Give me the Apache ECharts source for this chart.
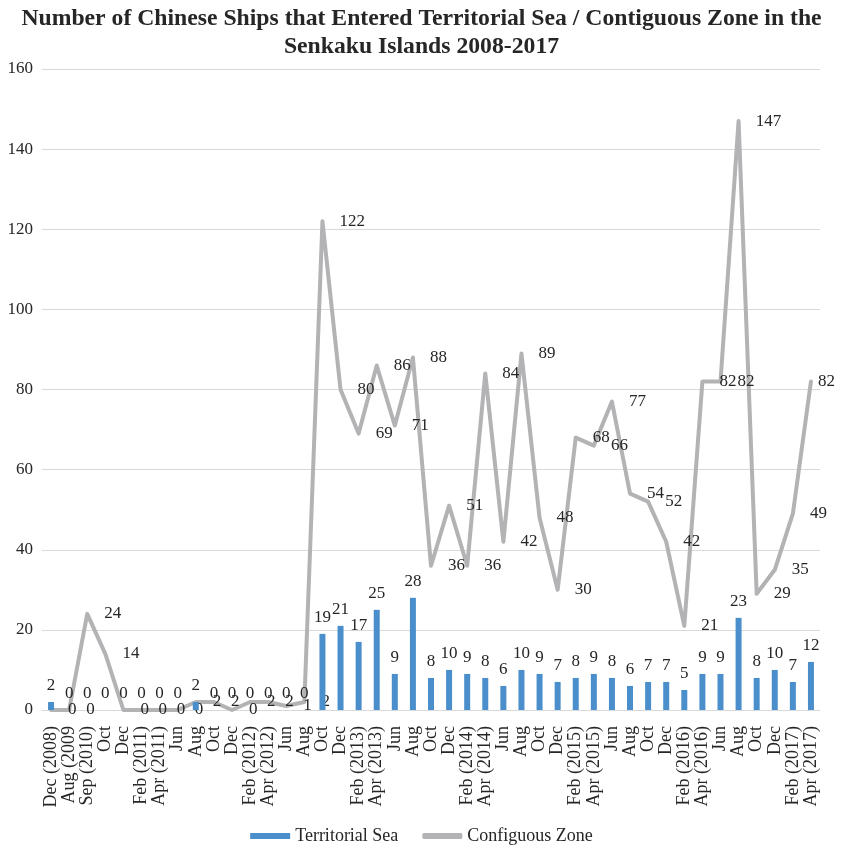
<!DOCTYPE html>
<html>
<head>
<meta charset="utf-8">
<script src="https://cdn.jsdelivr.net/npm/echarts@6/dist/echarts.min.js"></script>
<style>
  html, body { margin: 0; padding: 0; background: #fff; }
  #chart { width: 843px; height: 850px; }
</style>
</head>
<body>
<div id="chart"></div>
<script>
// Months on the category axis
var months = [
  'Dec (2008)', 'Aug (2009', 'Sep (2010)', 'Oct', 'Dec',
  'Feb (2011)', 'Apr (2011)', 'Jun', 'Aug', 'Oct', 'Dec',
  'Feb (2012)', 'Apr (2012)', 'Jun', 'Aug', 'Oct', 'Dec',
  'Feb (2013)', 'Apr (2013)', 'Jun', 'Aug', 'Oct', 'Dec',
  'Feb (2014)', 'Apr (2014)', 'Jun', 'Aug', 'Oct', 'Dec',
  'Feb (2015)', 'Apr (2015)', 'Jun', 'Aug', 'Oct', 'Dec',
  'Feb (2016)', 'Apr (2016)', 'Jun', 'Aug', 'Oct', 'Dec',
  'Feb (2017)', 'Apr (2017)'
];

// Ships entering the territorial sea
var territorialSea = [
  2, 0, 0, 0, 0,
  0, 0, 0, 2, 0, 0,
  0, 0, 0, 0, 19, 21,
  17, 25, 9, 28, 8, 10,
  9, 8, 6, 10, 9, 7,
  8, 9, 8, 6, 7, 7,
  5, 9, 9, 23, 8, 10,
  7, 12
];

// Ships entering the contiguous zone
var contiguousZone = [
  0, 0, 24, 14, 0,
  0, 0, 0, 2, 2, 0,
  2, 2, 1, 2, 122, 80,
  69, 86, 71, 88, 36, 51,
  36, 84, 42, 89, 48, 30,
  68, 66, 77, 54, 52, 42,
  21, 82, 82, 147, 29, 35,
  49, 82
];

var yTicks = { min: 0, max: 160, interval: 20 };

var serif = '"Liberation Serif", "Times New Roman", serif';
var textColor = '#262626';

// The last line label sits closer to its point so it stays inside the canvas
var lastIdx = contiguousZone.length - 1;
var contiguousData = contiguousZone.map(function (v, i) {
  return i === lastIdx ? { value: v, label: { distance: 7 } } : v;
});

var chart = echarts.init(document.getElementById('chart'), null, { renderer: 'canvas' });

chart.setOption({
  backgroundColor: '#ffffff',
  animation: false,
  title: {
    text: 'Number of Chinese Ships that Entered Territorial Sea / Contiguous Zone in the\nSenkaku Islands 2008-2017',
    left: 'center',
    top: 0,
    textStyle: {
      fontFamily: serif,
      fontWeight: 'bold',
      fontSize: 23.7,
      lineHeight: 28,
      color: textColor
    }
  },
  legend: {
    bottom: 0,
    left: 'center',
    itemWidth: 40,
    itemHeight: 6,
    itemGap: 24,
    textStyle: { fontFamily: serif, fontSize: 18, color: textColor },
    data: [
      { name: 'Territorial Sea', icon: 'rect' },
      { name: 'Configuous Zone', icon: 'roundRect' }
    ]
  },
  grid: {
    left: 42,
    right: 23,
    top: 69,
    bottom: 140,
    containLabel: false
  },
  xAxis: {
    type: 'category',
    data: months,
    boundaryGap: true,
    axisLine: { show: true, lineStyle: { color: '#d9d9d9', width: 1 } },
    axisTick: { show: false },
    axisLabel: {
      interval: 0,
      rotate: 90,
      margin: 16,
      fontFamily: serif,
      fontSize: 18,
      color: textColor
    }
  },
  yAxis: {
    type: 'value',
    min: yTicks.min,
    max: yTicks.max,
    interval: yTicks.interval,
    axisLine: { show: false },
    axisTick: { show: false },
    splitLine: { lineStyle: { color: '#d9d9d9', width: 1 } },
    axisLabel: {
      margin: 9,
      fontFamily: serif,
      fontSize: 17,
      color: textColor
    }
  },
  series: [
    {
      name: 'Territorial Sea',
      type: 'bar',
      data: territorialSea,
      barWidth: 6,
      itemStyle: { color: '#4a8fcb' },
      label: {
        show: true,
        position: 'top',
        distance: 8,
        fontFamily: serif,
        fontSize: 17,
        color: textColor
      },
      z: 3
    },
    {
      name: 'Configuous Zone',
      type: 'line',
      data: contiguousData,
      symbol: 'circle',
      symbolSize: 0.1,
      showSymbol: true,
      showAllSymbol: true,
      lineStyle: { color: '#b3b3b6', width: 4, cap: 'round', join: 'round' },
      itemStyle: { color: '#b3b3b6' },
      label: {
        show: true,
        position: 'right',
        distance: 17,
        fontFamily: serif,
        fontSize: 17,
        color: textColor
      },
      labelLayout: { hideOverlap: false },
      z: 2
    }
  ]
});
</script>
</body>
</html>
